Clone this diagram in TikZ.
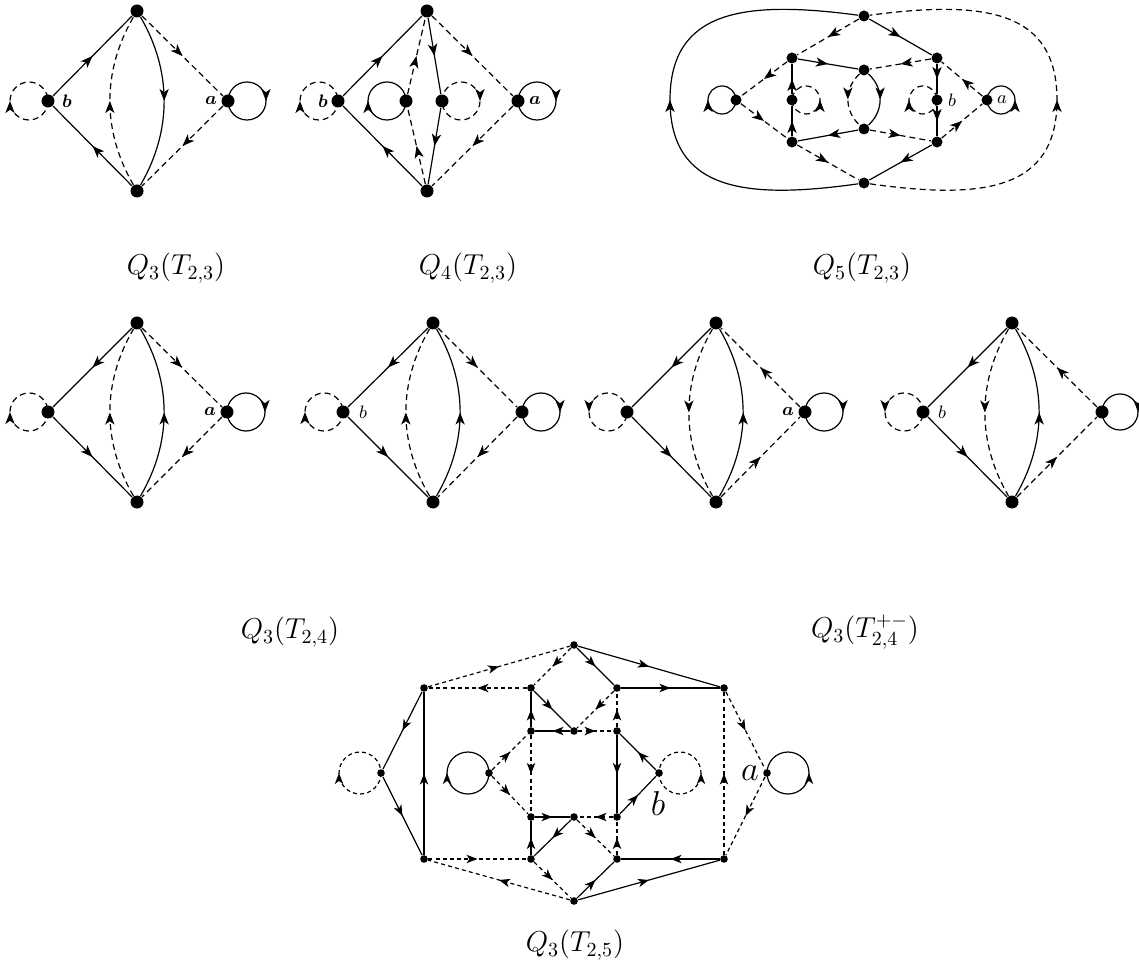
\documentclass[tikz,border=0pt]{standalone}
\usepackage{amsmath}
\usetikzlibrary{arrows.meta,decorations.markings}

\begin{document}
\begin{tikzpicture}[x=0.5pt,y=-0.5pt,line width=0.6pt,
  vtx/.style={circle,fill,inner sep=0pt,minimum size=6.5pt},
  qvtx/.style={circle,fill,inner sep=0pt,minimum size=5.5pt},
  svtx/.style={circle,fill,inner sep=0pt,minimum size=3.8pt},
  dsh/.style={dash pattern=on 3pt off 2pt},
  sdsh/.style={dash pattern=on 2pt off 1.6pt},
  mid/.style={postaction={decorate},decoration={markings,
    mark=at position 0.5 with {\arrow{Stealth[length=6pt,width=4.6pt,inset=1.6pt]}}}},
  smid/.style={postaction={decorate},decoration={markings,
    mark=at position 0.5 with {\arrow{Stealth[length=5.5pt,width=4.2pt,inset=1.5pt]}}}},
  captxt/.style={font=\Large},
  lbl/.style={inner sep=1pt,font=\small}]
  \useasboundingbox (0,0) rectangle (1139,967);

  % Q_3(T_{2,3})
  \begin{scope}[shift={(137,101)}]
    \node[vtx] (At) at (0,-90) {};
    \node[vtx] (Ab) at (0,90) {};
    \node[vtx] (Al) at (-89,0) {};
    \node[vtx] (Ar) at (91,0) {};
    \draw[mid] (Al) -- (At);
    \draw[mid] (Ab) -- (Al);
    \draw[mid] (At) .. controls +(35,60) and +(35,-60) .. (Ab);
    \draw[dsh,mid] (Ab) .. controls +(-35,-60) and +(-35,60) .. (At);
    \draw[dsh,mid] (At) -- (Ar);
    \draw[dsh,mid] (Ar) -- (Ab);
    \draw[dsh,mid] (Al.center) arc[start angle=0,end angle=360,radius=19];
    \draw[mid] (Ar.center) arc[start angle=180,end angle=540,radius=19];
    \node[lbl] (Alb) at (-70,0) {$\boldsymbol{b}$};
    \node[lbl] (Ala) at (74,0) {$\boldsymbol{a}$};
  \end{scope}

  % Q_4(T_{2,3})
  \begin{scope}[shift={(427,101)}]
    \node[vtx] (Bt) at (0,-90) {};
    \node[vtx] (Bb) at (0,90) {};
    \node[vtx] (Bl) at (-89,0) {};
    \node[vtx] (Br) at (91,0) {};
    \node[vtx] (Bi) at (-21,0) {};
    \node[vtx] (Bj) at (15,0) {};
    \draw[mid] (Bl) -- (Bt);
    \draw[mid] (Bb) -- (Bl);
    \draw[mid] (Bt) -- (Bj);
    \draw[mid] (Bj) -- (Bb);
    \draw[dsh,mid] (Bb) -- (Bi);
    \draw[dsh,mid] (Bi) -- (Bt);
    \draw[dsh,mid] (Bt) -- (Br);
    \draw[dsh,mid] (Br) -- (Bb);
    \draw[dsh,mid] (Bl.center) arc[start angle=0,end angle=360,radius=19];
    \draw[mid] (Br.center) arc[start angle=180,end angle=540,radius=19];
    \draw[mid] (Bi.center) arc[start angle=0,end angle=360,radius=19];
    \draw[dsh,mid] (Bj.center) arc[start angle=180,end angle=540,radius=19];
    \node[lbl] (Blb) at (-104,0) {$\boldsymbol{b}$};
    \node[lbl] (Bla) at (108,0) {$\boldsymbol{a}$};
  \end{scope}

  % Q_5(T_{2,3})
  \begin{scope}[shift={(864,100)}]
    \node[qvtx] (Ct) at (0,-84) {};
    \node[qvtx] (Cb) at (0,83) {};
    \node[qvtx] (Cul) at (-72,-42) {};
    \node[qvtx] (Cum) at (0,-30) {};
    \node[qvtx] (Cur) at (73,-42) {};
    \node[qvtx] (Cml) at (-72,0) {};
    \node[qvtx] (Cmr) at (73,0) {};
    \node[qvtx] (Cll) at (-72,42) {};
    \node[qvtx] (Clm) at (0,29) {};
    \node[qvtx] (Clr) at (73,42) {};
    \node[qvtx] (Cw) at (-128,0) {};
    \node[qvtx] (Ce) at (123,0) {};
    \foreach \p/\q in {Ct/Cur, Cul/Cum, Clm/Cll, Cll/Cml, Cml/Cul,
                       Cur/Cmr, Cmr/Clr, Clr/Cb}
      \draw[mid] (\p) -- (\q);
    \foreach \p/\q in {Ct/Cul, Cul/Cw, Cw/Cll, Cll/Cb, Cur/Cum,
                       Clm/Clr, Ce/Cur, Clr/Ce}
      \draw[dsh,mid] (\p) -- (\q);
    \draw[mid] (Cum) .. controls +(20,18) and +(20,-18) .. (Clm);
    \draw[dsh,mid] (Cum) .. controls +(-20,18) and +(-20,-18) .. (Clm);
    \draw[mid] (Cb) .. controls (-120,100) and (-194,90) .. (-194,0)
      .. controls (-194,-90) and (-120,-100) .. (Ct);
    \draw[dsh,mid] (Cb) .. controls (120,100) and (193,90) .. (193,0)
      .. controls (193,-90) and (120,-100) .. (Ct);
    \draw[mid] (Cw.center) arc[start angle=0,end angle=360,radius=14];
    \draw[mid] (Ce.center) arc[start angle=180,end angle=-180,radius=14];
    \draw[dsh,mid] (Cml.center) arc[start angle=180,end angle=-180,radius=14];
    \draw[dsh,mid] (Cmr.center) arc[start angle=0,end angle=360,radius=14];
    \node[lbl] (Clb) at (88,0) {$b$};
    \node[lbl] (Cla) at (138,0) {$a$};
  \end{scope}

  % Q_3(T_{2,4})
  \begin{scope}[shift={(137,412)}]
    \node[vtx] (Dt) at (0,-89) {};
    \node[vtx] (Db) at (0,90) {};
    \node[vtx] (Dl) at (-89,0) {};
    \node[vtx] (Dr) at (90,0) {};
    \draw[mid] (Dt) -- (Dl);
    \draw[mid] (Dl) -- (Db);
    \draw[mid] (Db) .. controls +(35,-60) and +(35,60) .. (Dt);
    \draw[dsh,mid] (Db) .. controls +(-35,-60) and +(-35,60) .. (Dt);
    \draw[dsh,mid] (Dt) -- (Dr);
    \draw[dsh,mid] (Dr) -- (Db);
    \draw[dsh,mid] (Dl.center) arc[start angle=0,end angle=360,radius=19];
    \draw[mid] (Dr.center) arc[start angle=180,end angle=540,radius=19];
    \node[lbl] (Dla) at (73,0) {$\boldsymbol{a}$};
  \end{scope}

  \begin{scope}[shift={(433,412)}]
    \node[vtx] (Et) at (0,-89) {};
    \node[vtx] (Eb) at (0,90) {};
    \node[vtx] (El) at (-90,0) {};
    \node[vtx] (Er) at (89,0) {};
    \draw[mid] (Et) -- (El);
    \draw[mid] (El) -- (Eb);
    \draw[mid] (Eb) .. controls +(35,-60) and +(35,60) .. (Et);
    \draw[dsh,mid] (Eb) .. controls +(-35,-60) and +(-35,60) .. (Et);
    \draw[dsh,mid] (Et) -- (Er);
    \draw[dsh,mid] (Er) -- (Eb);
    \draw[dsh,mid] (El.center) arc[start angle=0,end angle=360,radius=19];
    \draw[mid] (Er.center) arc[start angle=180,end angle=540,radius=19];
    \node[lbl] (Elb) at (-70,0) {$b$};
  \end{scope}

  % Q_3(T^{+-}_{2,4})
  \begin{scope}[shift={(716,412)}]
    \node[vtx] (Ft) at (0,-89) {};
    \node[vtx] (Fb) at (0,90) {};
    \node[vtx] (Fl) at (-89,0) {};
    \node[vtx] (Fr) at (89,0) {};
    \draw[mid] (Ft) -- (Fl);
    \draw[mid] (Fl) -- (Fb);
    \draw[mid] (Fb) .. controls +(35,-60) and +(35,60) .. (Ft);
    \draw[dsh,mid] (Ft) .. controls +(-35,60) and +(-35,-60) .. (Fb);
    \draw[dsh,mid] (Fr) -- (Ft);
    \draw[dsh,mid] (Fb) -- (Fr);
    \draw[dsh,mid] (Fl.center) arc[start angle=0,end angle=-360,radius=19];
    \draw[mid] (Fr.center) arc[start angle=180,end angle=540,radius=19];
    \node[lbl] (Fla) at (72,0) {$\boldsymbol{a}$};
  \end{scope}

  \begin{scope}[shift={(1012,412)}]
    \node[vtx] (Gt) at (0,-89) {};
    \node[vtx] (Gb) at (0,90) {};
    \node[vtx] (Gl) at (-89,0) {};
    \node[vtx] (Gr) at (90,0) {};
    \draw[mid] (Gt) -- (Gl);
    \draw[mid] (Gl) -- (Gb);
    \draw[mid] (Gb) .. controls +(35,-60) and +(35,60) .. (Gt);
    \draw[dsh,mid] (Gt) .. controls +(-35,60) and +(-35,-60) .. (Gb);
    \draw[dsh,mid] (Gr) -- (Gt);
    \draw[dsh,mid] (Gb) -- (Gr);
    \draw[dsh,mid] (Gl.center) arc[start angle=0,end angle=-360,radius=19];
    \draw[mid] (Gr.center) arc[start angle=180,end angle=540,radius=18];
    \node[lbl] (Glb) at (-70,0) {$b$};
  \end{scope}

  % Q_3(T_{2,5})
  \begin{scope}[shift={(574,773)}]
    \node[svtx] (Hw) at (-193,0) {};
    \node[svtx] (Hul) at (-150,-85) {};
    \node[svtx] (Hll) at (-150,86) {};
    \node[svtx] (Ht) at (0,-128) {};
    \node[svtx] (Hb) at (0,128) {};
    \node[svtx] (H1) at (-43,-85) {};
    \node[svtx] (H2) at (-43,-42) {};
    \node[svtx] (H3) at (-43,44) {};
    \node[svtx] (H4) at (-43,86) {};
    \node[svtx] (Hm1) at (0,-42) {};
    \node[svtx] (Hm2) at (0,44) {};
    \node[svtx] (K1) at (43,-85) {};
    \node[svtx] (K2) at (43,-42) {};
    \node[svtx] (K3) at (43,44) {};
    \node[svtx] (K4) at (43,86) {};
    \node[svtx] (Hur) at (150,-85) {};
    \node[svtx] (Hlr) at (150,86) {};
    \node[svtx] (Hv) at (-85,0) {};
    \node[svtx] (Hbv) at (85,0) {};
    \node[svtx] (Hav) at (193,0) {};
    \foreach \p/\q in {Hul/Hw, Hw/Hll, Hll/Hul, H1/Hm1, Hm1/H2, H2/H1,
                       H3/Hm2, Hm2/H4, H4/H3, Ht/K1, Ht/Hur, K1/Hur,
                       K2/K3, Hbv/K2, K3/Hbv, Hlr/K4, Hb/K4, Hb/Hlr}
      \draw[smid] (\p) -- (\q);
    \foreach \p/\q in {Hul/Ht, H1/Hul, Hll/H4, Hb/Hll, Ht/H1, Hv/H2,
                       H2/H3, Hv/H3, H4/Hb, K1/Hm1, Hm1/K2, K2/K1,
                       K3/Hm2, Hm2/K4, K4/K3, Hur/Hav, Hav/Hlr, Hlr/Hur}
      \draw[sdsh,smid] (\p) -- (\q);
    \draw[sdsh,smid] (Hw.center) arc[start angle=0,end angle=360,radius=21];
    \draw[smid] (Hv.center) arc[start angle=0,end angle=360,radius=21];
    \draw[sdsh,smid] (Hbv.center) arc[start angle=180,end angle=-180,radius=21];
    \draw[smid] (Hav.center) arc[start angle=180,end angle=-180,radius=21];
    \node[font=\LARGE] (Hla) at (176,0) {$a$};
    \node[font=\LARGE] (Hlb) at (84,30) {$b$};
  \end{scope}

  \node[captxt] (cap1) at (176,268) {$Q_3(T_{2,3})$};
  \node[captxt] (cap2) at (468,268) {$Q_4(T_{2,3})$};
  \node[captxt] (cap3) at (862,268) {$Q_5(T_{2,3})$};
  \node[captxt] (cap4) at (290,632) {$Q_3(T_{2,4})$};
  \node[captxt] (cap5) at (865,632) {$Q_3(T^{+-}_{2,4})$};
  \node[captxt] (cap6) at (575,945) {$Q_3(T_{2,5})$};
\end{tikzpicture}
\end{document}
